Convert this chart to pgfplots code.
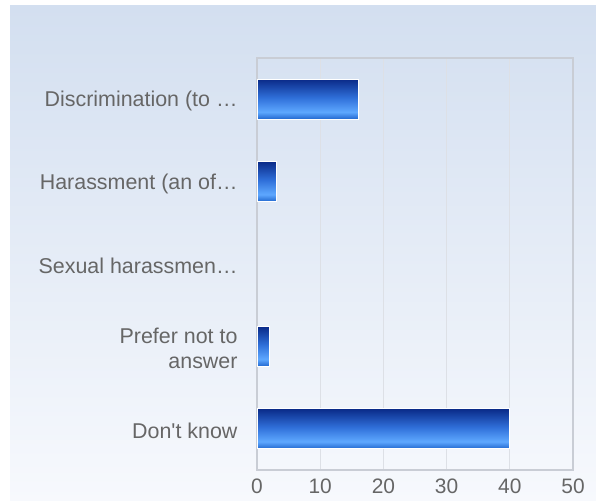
\documentclass[border=0pt]{standalone}
\usepackage{pgfplots}
\pgfplotsset{compat=1.18}
\usepackage{fontspec}
\setmainfont{Liberation Sans}

\definecolor{bgtop}{HTML}{D3DFF0}
\definecolor{bgbot}{HTML}{F7F9FD}
\definecolor{labelgray}{HTML}{666666}
\definecolor{gridgray}{HTML}{DDE0E6}
\definecolor{framegray}{HTML}{C9CDD5}
\definecolor{bartop}{HTML}{0A2A88}
\definecolor{barmid}{HTML}{2F6FD9}
\definecolor{barlight}{HTML}{5EA8FF}
\definecolor{barbot}{HTML}{2066CE}

% colours run bottom (25bp) to top (75bp)
\pgfdeclareverticalshading{barshade}{100bp}{
  color(0bp)=(barbot); color(25bp)=(barbot); color(34bp)=(barlight);
  color(52bp)=(barmid); color(75bp)=(bartop); color(100bp)=(bartop)}

\begin{document}
\begin{tikzpicture}[x=1bp,y=1bp]
  \useasboundingbox (0,0) rectangle (596,501);
  \fill[white] (0,0) rectangle (596,501);
  \shade[top color=bgtop, bottom color=bgbot] (10,0) rectangle (596,495);
  \begin{axis}[
      at={(257bp,31bp)}, anchor=south west,
      scale only axis,
      width=316bp, height=412bp,
      xbar, bar width=40bp, bar shift=0pt,
      xmin=0, xmax=50,
      ymin=-0.5, ymax=4.5,
      y dir=reverse,
      xtick={0,10,...,50},
      ytick={0,1,2,3,4},
      yticklabels={Discrimination (to …,Harassment (an of…,Sexual harassmen…,Prefer not to\\answer,Don\textquotesingle t know},
      yticklabel style={align=right, text=labelgray, font=\fontsize{21.5}{24.5}\selectfont},
      xticklabel style={text=labelgray, font=\fontsize{21}{24}\selectfont, inner sep=1bp},
      /pgf/number format/assume math mode=true,
      major tick length=0pt,
      xmajorgrids,
      grid style={gridgray, line width=1.2bp},
      axis line style={framegray, line width=1.5bp},
      axis background/.style={fill=none},
      y tick label style={xshift=-16bp, yshift=-2bp},
      x tick label style={yshift=-8bp},
      mybar/.style={xbar, shading=barshade, draw=white, line width=0.8bp},
    ]
    \addplot[mybar] coordinates {(16,0)};
    \addplot[mybar] coordinates {(3,1)};
    % Sexual harassment: 0, nothing drawn
    \addplot[xbar, draw=none, fill=none] coordinates {(0,2)};
    \addplot[mybar] coordinates {(2,3)};
    \addplot[mybar] coordinates {(40,4)};
  \end{axis}
\end{tikzpicture}
\end{document}
